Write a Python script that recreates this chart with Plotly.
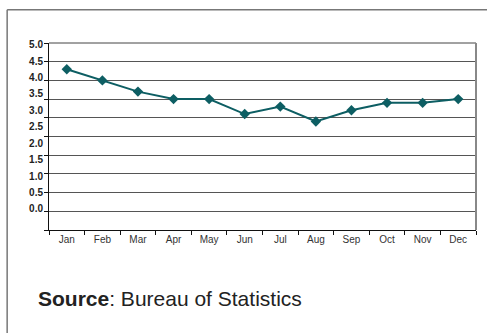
import plotly.graph_objects as go

# Monthly values
months = ["Jan", "Feb", "Mar", "Apr", "May", "Jun",
          "Jul", "Aug", "Sep", "Oct", "Nov", "Dec"]
values = [4.3, 4.0, 3.7, 3.5, 3.5, 3.1, 3.3, 2.9, 3.2, 3.4, 3.4, 3.5]

# Y-axis tick values and their printed labels
y_ticks = [5.0, 4.5, 4.0, 3.5, 3.0, 2.5, 2.0, 1.5, 1.0, 0.5, 0.0]
y_labels = [f"{v:.1f}" for v in y_ticks]

LINE = "#0d5e63"
FONT = "Liberation Sans, Arial, sans-serif"

fig = go.Figure()
fig.add_trace(go.Scatter(
    x=months, y=values, mode="lines+markers",
    line=dict(color=LINE, width=2),
    marker=dict(symbol="diamond", size=8, color=LINE),
    showlegend=False, hoverinfo="skip",
))
# empty series that attaches the label axis
fig.add_trace(go.Scatter(x=[], y=[], yaxis="y2", showlegend=False,
                         hoverinfo="skip"))

fig.update_layout(
    width=487, height=333,
    margin=dict(l=49, r=11, t=43, b=103),
    paper_bgcolor="white", plot_bgcolor="white",
    font=dict(family=FONT, color="#222"),
    xaxis=dict(
        type="category", range=[-0.5, 11.5],
        tickson="boundaries", ticks="outside", ticklen=4,
        tickcolor="#111", showline=True, linecolor="#111", linewidth=1,
        showgrid=False, zeroline=False,
        tickfont=dict(size=10, color="#333"),
    ),
    yaxis=dict(
        range=[0, 5.0], tickvals=y_ticks, showticklabels=False,
        ticks="outside", ticklen=4, tickcolor="#111",
        showline=True, linecolor="#111", linewidth=1,
        showgrid=True, gridcolor="#555", gridwidth=1, zeroline=False,
    ),
    # label-only axis with its own, tighter spacing for the printed values
    yaxis2=dict(
        overlaying="y", anchor="x", side="left",
        range=[-0.64, 5.05], tickvals=y_ticks, ticktext=y_labels,
        ticks="outside", ticklen=3, tickcolor="rgba(0,0,0,0)",
        showline=False, showgrid=False, zeroline=False,
        tickfont=dict(size=10, color="#222", family=FONT, weight="bold"),
    ),
    shapes=[
        # top and right edges of the plot frame
        dict(type="line", xref="paper", yref="paper", x0=0, x1=1, y0=1, y1=1,
             line=dict(color="#444", width=1)),
        dict(type="line", xref="paper", yref="paper", x0=1, x1=1, y0=0, y1=1,
             line=dict(color="#888", width=2)),
        # outer frame (left and top edges)
        dict(type="line", xref="paper", yref="paper",
             x0=-0.098, x1=-0.098, y0=1.178, y1=-0.56,
             line=dict(color="#777", width=1.5)),
        dict(type="line", xref="paper", yref="paper",
             x0=-0.098, x1=1.03, y0=1.178, y1=1.178,
             line=dict(color="#777", width=1.5)),
    ],
    annotations=[dict(
        text="<b>Source</b>: Bureau of Statistics",
        xref="paper", yref="paper", x=-0.031, y=-0.364,
        xanchor="left", yanchor="middle", showarrow=False,
        font=dict(size=21, color="#222", family=FONT),
    )],
)

fig.write_html("out.html")
